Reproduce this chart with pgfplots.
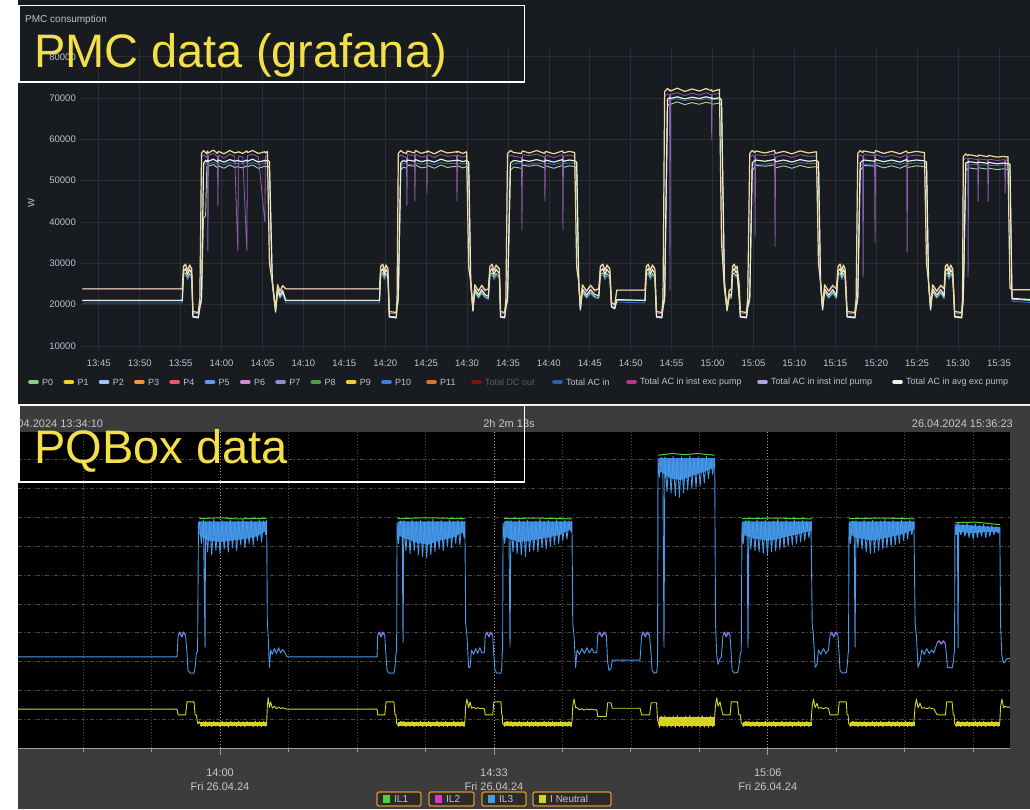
\documentclass[border=0pt]{standalone}
\usepackage{fontspec}
\setmainfont{Liberation Sans}
\usepackage{pgfplots}
\usepackage{pgfplotstable}
\pgfplotsset{compat=1.18}
\definecolor{gbg}{HTML}{181B1F}
\definecolor{ggrid}{HTML}{2B2E34}
\definecolor{gtext}{HTML}{BFC3CA}
\definecolor{gdim}{HTML}{5E5E62}
\definecolor{lblyellow}{HTML}{F2DF4A}
\definecolor{Ycol}{HTML}{F0DA98}
\definecolor{Wcol}{HTML}{E6F0E2}
\definecolor{Gcol}{HTML}{A6D89A}
\definecolor{Pcol}{HTML}{8E5FB0}
\definecolor{Bcol}{HTML}{3C6FC8}
\definecolor{lgP0}{HTML}{8FCE80}
\definecolor{lgP1}{HTML}{F2D12C}
\definecolor{lgP2}{HTML}{A0C4FF}
\definecolor{lgP3}{HTML}{F5953A}
\definecolor{lgP4}{HTML}{E8566A}
\definecolor{lgP5}{HTML}{5B9CF2}
\definecolor{lgP6}{HTML}{D28AD8}
\definecolor{lgP7}{HTML}{8F8CD0}
\definecolor{lgP8}{HTML}{4AA040}
\definecolor{lgP9}{HTML}{F0D030}
\definecolor{lgP10}{HTML}{3B7DD8}
\definecolor{lgP11}{HTML}{E0752A}
\definecolor{lgDC}{HTML}{7A1414}
\definecolor{lgTAC}{HTML}{2F5FA8}
\definecolor{lgExc}{HTML}{B3338F}
\definecolor{lgIncl}{HTML}{B5A0E0}
\definecolor{lgAvg}{HTML}{F0F5E0}
\definecolor{pqgray}{HTML}{3C3C3C}
\definecolor{pqgrid}{HTML}{4A4A4A}
\definecolor{pqtext}{HTML}{C8C8C8}
\definecolor{L1c}{HTML}{4CD137}
\definecolor{L2c}{HTML}{D63AC8}
\definecolor{L3c}{HTML}{4A9AE8}
\definecolor{L3band}{HTML}{3A88D8}
\definecolor{Nc}{HTML}{D6D420}
\definecolor{boxorange}{HTML}{E0902A}
\definecolor{boxfill}{HTML}{2B2B2B}
\newcommand{\tickfont}{\fontsize{9.5}{11}\selectfont}
\newcommand{\legfont}{\fontsize{9}{11}\selectfont}

\pgfplotstableread{
t Y P W G B
43.0 23800 23800 21000 21000 20400
55.20 23800 23800 21000 21000 20400
55.35 29300 29000 28000 27300 26800
55.60 29800 29400 28700 27700 27200
55.85 28300 28000 27300 26600 26000
56.10 29600 29200 28500 27500 27000
56.35 28700 28400 27500 26800 26300
56.50 18300 17900 17000 17200 16900
57.15 18100 17800 16800 17000 16800
57.35 21500 21000 19600 19200 18900
57.55 56600 55800 21500 21000 20800
57.80 57300 56200 54200 41000 53600
58.05 56800 55900 54900 41500 54100
58.20 56500 55600 54600 53300 54300
58.28 57200 56300 55000 53700 54000
58.33 56900 33000 54800 53200 54200
58.40 56700 56100 54700 53500 54000
59.00 57400 56600 55200 53900 54400
59.50 56600 55800 54600 53100 54000
59.55 56800 44000 54800 53300 54200
59.62 57100 56200 55000 53600 54300
60.30 56500 55500 54500 53000 53900
61.00 57300 56400 55100 53800 54400
61.60 56700 55900 54700 53200 54100
61.99 56900 33000 54900 53400 54200
62.06 57000 56000 54800 53300 54000
62.60 56600 55700 54600 53100 54200
63.09 57200 33000 55000 53600 54300
63.16 56800 56100 54700 53400 54000
63.80 57300 56400 55200 53800 54400
64.50 56600 55700 54500 53000 53900
65.29 57000 40000 54900 53500 54200
65.36 56700 55900 54700 53300 54100
65.60 57100 56200 55000 53600 54300
65.85 30000 33000 54600 53200 54000
66.20 25500 25000 26000 25000 24500
66.60 19000 18700 18200 18400 18000
66.85 24800 24500 23800 23200 22800
67.15 23300 23000 22300 21800 21500
67.45 24600 24300 23500 22900 22500
67.85 23800 23800 21000 21000 20400
79.30 23800 23800 21000 21000 20400
79.45 29300 29000 28000 27300 26800
79.70 29800 29400 28700 27700 27200
79.90 28300 28000 27300 26600 26000
80.10 29600 29200 28500 27500 27000
80.33 28700 28400 27500 26800 26300
80.50 18300 17900 17000 17200 16900
81.35 18100 17800 16800 17000 16800
81.45 21500 21000 19600 19200 18900
81.60 56600 55800 22000 21000 20800
81.90 57300 56200 54300 52500 53600
82.20 56800 55900 54900 53300 54100
82.60 56600 55600 54600 53000 54300
82.65 56900 44000 54800 53200 54200
82.72 57200 56300 55000 53700 54000
83.58 56700 56100 54700 53500 54000
83.63 56900 45000 54900 53400 54200
83.70 57300 56400 55100 53800 54300
84.40 56600 55700 54600 53100 54000
85.05 57000 56000 54900 53300 54100
85.10 56800 47000 54800 53200 54200
85.17 57200 56300 55000 53700 54300
86.00 56500 55600 54500 53000 53900
86.80 57300 56400 55200 53800 54400
87.60 56700 55900 54700 53200 54100
88.72 57000 56100 54900 53500 54200
88.77 56800 45000 54800 53300 54000
88.84 57100 56200 55000 53600 54300
89.50 56600 55700 54600 53100 54000
89.95 57000 56000 54900 53400 54200
90.20 29000 30000 54500 53000 53900
90.45 25500 25000 26000 25000 24500
90.72 19200 18900 18500 18600 18200
90.95 24800 24500 23800 23200 22800
91.40 23300 23000 22300 21800 21500
91.80 24700 24300 23600 23000 22600
92.20 23500 23200 22400 21900 21600
92.60 23800 23800 22000 21500 21200
92.80 29300 29000 28000 27300 26800
93.05 29800 29400 28700 27700 27200
93.30 28300 28000 27300 26600 26000
93.55 29600 29200 28500 27500 27000
93.95 28700 28400 27500 26800 26300
94.10 18300 17900 17000 17200 16900
94.60 18100 17800 16800 17000 16800
94.75 21500 21000 19600 19200 18900
94.95 56600 55800 22000 21000 20800
95.30 57300 56200 54300 52500 53600
95.70 56800 55900 54900 53300 54100
96.65 56600 55600 54600 53000 54300
96.71 56900 38000 54800 53200 54200
96.78 57200 56300 55000 53700 54000
97.60 56700 56100 54700 53500 54000
98.50 57300 56400 55100 53800 54300
99.47 56600 55700 54600 53100 54000
99.52 56800 45000 54800 53300 54200
99.59 57100 56200 55000 53600 54300
100.60 56500 55600 54500 53000 53900
101.67 57200 56300 55100 53700 54400
101.72 56900 38000 54800 53300 54100
101.79 56700 55900 54700 53200 54100
102.50 57100 56200 55000 53600 54300
103.15 56800 55900 54800 53400 54200
103.40 29000 30000 54500 53000 53900
103.65 25500 25000 25800 24800 24300
103.85 19500 19200 18800 18900 18500
104.10 24800 24500 23800 23200 22800
104.60 23300 23000 22300 21800 21500
105.10 24700 24300 23600 23000 22600
105.60 23500 23200 22400 21900 21600
106.10 23800 23800 22200 21700 21400
106.30 29300 29000 28000 27300 26800
106.60 29800 29400 28700 27700 27200
106.85 28300 28000 27300 26600 26000
107.10 29600 29200 28500 27500 27000
107.45 28700 28400 27500 26800 26300
107.65 20500 20200 19500 19600 19300
108.05 20000 19700 19000 19200 18900
108.30 23500 23500 21200 21100 20600
111.75 23500 23500 21000 21000 20400
111.90 29300 29000 28000 27300 26800
112.15 29800 29400 28700 27700 27200
112.40 28300 28000 27300 26600 26000
112.65 29600 29200 28500 27500 27000
112.95 28700 28400 27500 26800 26300
113.15 18300 17900 17000 17200 16900
113.80 18100 17800 16800 17000 16800
113.95 21500 21000 19600 19200 18900
114.15 71600 70500 22000 21000 20800
114.50 72300 71000 69700 68000 69300
114.75 71800 70800 70100 68700 69600
114.80 72000 23500 70000 68800 69500
114.87 71700 70900 69900 68500 69700
115.70 72400 71300 70300 69100 69800
116.60 71600 70600 69800 68400 69400
117.50 72200 71200 70200 68900 69700
118.40 71700 70700 69900 68500 69500
119.20 72300 71300 70300 69000 69800
119.85 71800 70800 70000 68700 69600
119.90 72000 60000 70100 68800 69500
119.97 71600 70900 69800 68500 69600
120.85 72100 71100 70100 68800 69700
121.10 35000 40000 69500 68200 69000
121.45 24000 24000 26000 25000 24500
121.77 19000 18700 18700 18500 18300
122.05 23500 23200 22500 22000 21600
122.30 23800 23800 22200 21700 21400
122.45 29300 29000 28000 27300 26800
122.65 29800 29400 28700 27700 27200
122.85 28800 28500 27800 27000 26500
123.00 29300 29000 28200 27300 26800
123.25 25000 24500 22000 22000 21500
123.40 18300 17900 17000 17200 16900
124.15 18100 17800 16800 17000 16800
124.30 21500 21000 19600 19200 18900
124.55 56600 55800 22000 21000 20800
124.85 57300 56200 54300 52500 53600
125.15 56800 55900 54900 53300 54100
125.20 56900 36400 54800 53200 54200
125.27 57200 56300 55000 53700 54000
126.40 56700 56100 54700 53500 54000
127.58 57300 56400 55100 53800 54300
127.64 56800 34000 54800 53300 54200
127.71 56600 55700 54600 53100 54000
128.70 57100 56200 55000 53600 54300
129.70 56500 55600 54500 53000 53900
130.70 57200 56300 55100 53700 54400
131.70 56700 55900 54700 53200 54100
132.70 57000 56000 54900 53400 54200
132.95 30000 31000 54500 53000 53900
133.20 25500 25000 25800 24800 24300
133.45 19500 19200 18800 18900 18500
133.70 24800 24500 23800 23200 22800
134.20 23300 23000 22300 21800 21500
134.70 24700 24300 23600 23000 22600
135.15 23800 23800 22200 21700 21400
135.35 29300 29000 28000 27300 26800
135.60 29800 29400 28700 27700 27200
135.80 28300 28000 27300 26600 26000
136.00 29600 29200 28500 27500 27000
136.20 28700 28400 27500 26800 26300
136.45 18300 17900 17000 17200 16900
137.40 18100 17800 16800 17000 16800
137.55 21500 21000 19600 19200 18900
137.75 56600 55800 22000 21000 20800
138.05 57300 56200 54300 52500 53600
138.35 56800 55900 54900 53300 54100
138.40 56900 26700 54800 53200 54200
138.47 57200 56300 55000 53700 54000
139.80 56700 56100 54700 53500 54000
139.86 56900 35000 54900 53400 54200
139.93 57300 56400 55100 53800 54300
140.90 56600 55700 54600 53100 54000
141.90 57100 56200 55000 53600 54300
142.90 56500 55600 54500 53000 53900
143.72 57200 56300 55100 53700 54400
143.78 56900 32700 54800 53300 54100
143.85 56700 55900 54700 53200 54100
144.90 57100 56200 55000 53600 54300
145.90 56800 55900 54800 53400 54200
146.15 30000 31000 54500 53000 53900
146.40 25500 25000 25800 24800 24300
146.65 19500 19200 18800 18900 18500
146.90 24800 24500 23800 23200 22800
147.40 23300 23000 22300 21800 21500
147.90 24700 24300 23600 23000 22600
148.30 23800 23800 22200 21700 21400
148.45 29300 29000 28000 27300 26800
148.70 29800 29400 28700 27700 27200
148.90 28300 28000 27300 26600 26000
149.10 29600 29200 28500 27500 27000
149.35 28700 28400 27500 26800 26300
149.60 18300 17900 17000 17200 16900
150.45 18100 17800 16800 17000 16800
150.55 21500 21000 19600 19200 18900
150.65 55800 55000 22000 21000 20800
150.95 56500 55500 54300 52500 53600
151.20 56000 55200 54500 53000 53900
151.23 56100 26700 54400 52900 54000
151.30 56300 55400 54600 53100 53800
152.40 55900 55100 54300 52800 53900
152.46 56000 45000 54400 53000 54000
152.53 56200 55300 54500 53100 53800
153.62 55800 55000 54200 52800 53800
153.68 56000 45000 54300 52900 53900
153.75 56100 55200 54400 53000 53700
154.80 55700 54900 54100 52700 53700
155.70 55900 55100 54300 52900 53800
155.76 55800 47000 54200 52800 53900
155.83 55700 55000 54100 52700 53700
156.10 55800 55000 54200 52800 53800
156.35 24000 23800 54000 52500 53500
156.60 23600 23600 21500 21300 20800
158.80 23600 23600 21200 21000 20500
}\toptab

\pgfplotstableread{
t L3 N
35.66 3.16 1.35
54.82 3.16 1.35
54.95 3.90 1.15
55.15 4.00 1.15
55.40 3.85 1.15
55.60 4.00 1.15
55.85 3.90 1.15
56.02 3.30 1.60
56.14 2.70 1.60
56.40 2.60 1.60
56.87 2.60 1.60
57.00 2.80 1.15
57.15 3.30 1.15
57.30 3.35 0.85
57.40 7.80 0.85
57.50 7.86 0.92
57.75 7.10 0.75
58.00 7.92 0.90
58.20 3.50 0.74
58.25 7.84 0.93
58.50 6.80 0.75
58.75 7.88 0.91
59.00 6.70 0.74
59.25 7.95 0.92
59.50 6.85 0.76
59.75 7.84 0.90
60.00 6.75 0.74
60.25 7.90 0.93
60.50 6.90 0.75
60.75 7.86 0.91
61.00 6.80 0.73
61.25 7.92 0.92
61.50 6.95 0.76
61.75 7.84 0.90
62.00 6.85 0.74
62.25 7.88 0.93
62.50 7.05 0.75
62.75 7.95 0.91
63.00 6.95 0.74
63.25 7.86 0.92
63.50 7.10 0.76
63.75 7.90 0.90
64.00 7.05 0.74
64.25 7.84 0.93
64.50 7.20 0.75
64.75 7.92 0.91
65.00 7.15 0.74
65.25 7.88 0.92
65.50 7.40 0.76
65.62 7.90 0.90
65.70 4.30 1.45
65.80 3.90 1.75
65.95 2.80 1.40
66.10 3.40 1.60
66.30 3.25 1.38
66.55 3.45 1.45
66.80 3.28 1.36
67.05 3.48 1.42
67.30 3.30 1.37
67.55 3.42 1.40
67.83 3.30 1.36
68.07 3.16 1.35
78.92 3.16 1.35
79.00 3.90 1.15
79.20 4.00 1.15
79.40 3.85 1.15
79.60 4.00 1.15
79.85 3.90 1.15
80.00 3.20 1.60
80.12 2.70 1.60
80.35 2.60 1.60
80.95 2.60 1.60
81.08 2.80 1.15
81.20 3.30 1.15
81.28 3.35 0.85
81.33 7.80 0.85
81.50 7.10 0.75
81.75 7.88 0.92
81.95 7.85 0.90
82.05 3.65 0.76
82.15 7.90 0.93
82.40 6.85 0.74
82.65 7.84 0.91
82.90 6.75 0.75
83.15 7.92 0.92
83.40 6.85 0.74
83.65 7.86 0.90
83.90 6.70 0.76
84.15 7.90 0.93
84.40 6.65 0.74
84.65 7.84 0.91
84.90 6.60 0.75
85.15 7.88 0.92
85.40 6.70 0.74
85.65 7.95 0.90
85.90 6.80 0.76
86.15 7.86 0.93
86.40 6.90 0.74
86.65 7.90 0.91
86.90 6.85 0.75
87.15 7.84 0.92
87.40 7.00 0.74
87.65 7.92 0.90
87.90 6.95 0.76
88.15 7.86 0.93
88.40 7.10 0.74
88.65 7.90 0.91
88.90 7.05 0.75
89.15 7.88 0.92
89.40 7.30 0.74
89.50 7.86 0.90
89.60 4.30 1.45
89.75 3.90 1.70
89.95 2.80 1.40
90.12 2.80 1.60
90.30 3.40 1.38
90.55 3.25 1.42
90.80 3.45 1.36
91.05 3.28 1.40
91.30 3.48 1.37
91.55 3.30 1.38
91.85 3.32 1.36
91.95 3.90 1.15
92.15 4.00 1.15
92.40 3.85 1.15
92.60 4.00 1.15
92.85 3.90 1.15
93.00 3.20 1.60
93.13 2.70 1.60
93.35 2.60 1.60
93.85 2.60 1.60
93.95 2.80 1.15
94.00 3.30 1.15
94.05 3.35 0.85
94.10 7.80 0.85
94.30 7.10 0.75
94.55 7.88 0.92
94.80 7.85 0.90
94.94 3.50 0.76
95.05 7.90 0.93
95.30 6.80 0.74
95.55 7.84 0.91
95.80 6.75 0.75
96.05 7.92 0.92
96.30 6.70 0.74
96.55 7.86 0.90
96.80 6.65 0.76
97.05 7.90 0.93
97.30 6.80 0.74
97.55 7.84 0.91
97.80 6.85 0.75
98.05 7.88 0.92
98.30 6.80 0.74
98.55 7.95 0.90
98.80 6.95 0.76
99.05 7.86 0.93
99.30 6.90 0.74
99.55 7.90 0.91
99.80 7.00 0.75
100.05 7.84 0.92
100.30 7.05 0.74
100.55 7.92 0.90
100.80 7.10 0.76
101.05 7.86 0.93
101.30 7.20 0.74
101.55 7.90 0.91
101.80 7.25 0.75
102.05 7.88 0.92
102.30 7.50 0.74
102.40 7.86 0.90
102.50 4.30 1.45
102.65 3.90 1.70
102.85 2.80 1.40
103.01 3.40 1.40
103.30 3.25 1.33
103.60 3.45 1.36
103.90 3.28 1.32
104.20 3.48 1.35
104.50 3.30 1.33
104.80 3.45 1.35
105.10 3.30 1.32
105.40 3.32 1.33
105.50 3.90 1.10
105.75 4.00 1.10
106.00 3.85 1.10
106.25 4.00 1.10
106.55 3.90 1.10
106.70 3.00 1.57
106.85 2.70 1.57
107.10 2.75 1.57
107.25 3.05 1.38
110.60 3.05 1.38
110.80 3.90 1.15
111.00 4.00 1.15
111.25 3.85 1.15
111.45 4.00 1.15
111.75 3.90 1.15
111.95 3.20 1.57
112.05 2.70 1.57
112.30 2.60 1.57
112.60 2.62 1.57
112.68 2.80 1.15
112.72 3.30 0.95
112.77 10.00 0.95
112.95 9.40 0.72
113.15 10.08 1.10
113.35 10.02 1.05
113.49 3.50 0.74
113.60 10.10 1.12
113.85 8.90 0.72
114.10 10.04 1.08
114.35 8.85 0.73
114.60 10.12 1.10
114.85 8.75 0.72
115.10 10.06 1.12
115.35 8.70 0.74
115.60 10.10 1.08
115.85 8.85 0.72
116.10 10.02 1.10
116.35 8.95 0.73
116.60 10.14 1.12
116.85 9.00 0.72
117.10 10.06 1.08
117.35 9.05 0.74
117.60 10.10 1.10
117.85 9.10 0.72
118.10 10.04 1.12
118.35 9.20 0.73
118.60 10.12 1.08
118.85 9.35 0.72
119.10 10.06 1.10
119.35 9.50 0.74
119.60 10.05 1.08
119.70 4.30 1.50
119.85 3.20 1.74
120.00 2.90 1.45
120.24 3.10 1.60
120.40 3.16 1.36
120.60 3.90 1.15
120.80 4.00 1.15
121.00 3.85 1.15
121.20 4.00 1.15
121.45 3.90 1.15
121.60 3.20 1.60
121.69 2.70 1.60
121.95 2.60 1.60
122.35 2.62 1.60
122.50 2.80 1.15
122.70 3.30 1.15
122.80 3.35 0.85
122.89 7.80 0.85
123.05 7.10 0.75
123.30 7.88 0.92
123.50 7.85 0.90
123.61 3.47 0.76
123.72 7.90 0.93
123.95 6.90 0.74
124.20 7.84 0.91
124.45 6.85 0.75
124.70 7.92 0.92
124.95 6.80 0.74
125.20 7.86 0.90
125.45 6.75 0.76
125.70 7.90 0.93
125.95 6.70 0.74
126.20 7.84 0.91
126.45 6.80 0.75
126.70 7.88 0.92
126.95 6.85 0.74
127.20 7.95 0.90
127.45 6.90 0.76
127.70 7.86 0.93
127.95 6.95 0.74
128.20 7.90 0.91
128.45 7.00 0.75
128.70 7.84 0.92
128.95 7.05 0.74
129.20 7.92 0.90
129.45 7.10 0.76
129.70 7.86 0.93
129.95 7.15 0.74
130.20 7.90 0.91
130.45 7.20 0.75
130.70 7.88 0.92
130.95 7.30 0.74
131.20 7.86 0.90
131.35 4.30 1.45
131.50 3.90 1.70
131.70 2.80 1.40
131.93 2.90 1.55
132.10 3.40 1.38
132.40 3.25 1.40
132.70 3.45 1.36
133.00 3.28 1.40
133.30 3.40 1.37
133.50 3.90 1.15
133.70 4.00 1.15
133.95 3.85 1.15
134.20 4.00 1.15
134.45 3.90 1.15
134.60 3.20 1.60
134.70 2.70 1.60
134.95 2.60 1.60
135.45 2.62 1.60
135.55 2.80 1.15
135.68 3.30 1.15
135.73 3.35 0.85
135.78 7.80 0.85
135.95 7.10 0.75
136.20 7.88 0.92
136.40 7.85 0.90
136.51 3.50 0.76
136.62 7.90 0.93
136.85 6.95 0.74
137.10 7.84 0.91
137.35 6.90 0.75
137.60 7.92 0.92
137.85 6.80 0.74
138.10 7.86 0.90
138.35 6.75 0.76
138.60 7.90 0.93
138.85 6.78 0.74
139.10 7.84 0.91
139.35 6.85 0.75
139.60 7.88 0.92
139.85 6.90 0.74
140.10 7.95 0.90
140.35 6.95 0.76
140.60 7.86 0.93
140.85 7.00 0.74
141.10 7.90 0.91
141.35 7.05 0.75
141.60 7.84 0.92
141.85 7.10 0.74
142.10 7.92 0.90
142.35 7.20 0.76
142.60 7.86 0.93
142.85 7.25 0.74
143.10 7.90 0.91
143.35 7.40 0.75
143.60 7.86 0.92
143.75 4.30 1.45
143.90 3.90 1.70
144.10 2.80 1.40
144.34 3.00 1.55
144.55 3.40 1.38
144.85 3.25 1.40
145.15 3.45 1.36
145.45 3.28 1.40
145.75 3.40 1.37
146.00 3.30 1.36
146.40 3.65 1.15
146.65 3.70 1.15
146.90 3.60 1.15
147.15 3.70 1.15
147.40 3.60 1.15
147.55 3.10 1.60
147.65 2.80 1.60
148.20 2.78 1.60
148.35 3.00 1.15
148.45 3.30 1.15
148.50 3.35 0.85
148.55 7.75 0.85
148.70 7.40 0.75
148.85 7.78 0.92
148.92 3.47 0.76
149.00 7.80 0.93
149.25 7.40 0.74
149.50 7.76 0.91
149.75 7.35 0.75
150.00 7.80 0.92
150.25 7.30 0.74
150.50 7.74 0.90
150.75 7.25 0.76
151.00 7.78 0.93
151.25 7.30 0.74
151.50 7.72 0.91
151.75 7.35 0.75
152.00 7.76 0.92
152.25 7.30 0.74
152.50 7.70 0.90
152.75 7.35 0.76
153.00 7.72 0.93
153.25 7.40 0.74
153.50 7.68 0.91
153.75 7.45 0.75
153.95 7.66 0.92
154.05 4.20 1.45
154.20 3.20 1.70
154.40 2.95 1.40
154.58 3.00 1.45
154.80 3.10 1.42
155.18 3.10 1.42
}\bottab

\begin{document}
\begin{tikzpicture}[x=1pt,y=1pt]
\path[use as bounding box] (0pt,0pt) rectangle (1030pt,-809pt);
\fill[white] (0pt,0pt) rectangle (1030pt,-809pt);
\fill[gbg] (18pt,0pt) rectangle (1030pt,-404pt);
\fill[pqgray] (18pt,-405pt) rectangle (1030pt,-809pt);
\fill[black] (18pt,-432pt) rectangle (1010pt,-749pt);

% ---------- top panel: grafana ----------
\begin{axis}[
  at={(80pt,-350pt)}, anchor=south west, scale only axis,
  width=950pt, height=301.5pt,
  xmin=42.7, xmax=158.8, ymin=9000, ymax=82000,
  scaled y ticks=false, scaled x ticks=false,
  axis line style={draw=none}, tick style={draw=none},
  grid=major, grid style={color=ggrid, line width=0.7pt},
  xtick={45,50,...,155},
  xticklabels={13:45,13:50,13:55,14:00,14:05,14:10,14:15,14:20,14:25,14:30,14:35,14:40,14:45,14:50,14:55,15:00,15:05,15:10,15:15,15:20,15:25,15:30,15:35},
  ytick={10000,20000,...,80000},
  yticklabels={10000,20000,30000,40000,50000,60000,70000,80000},
  xticklabel style={font=\tickfont, text=gtext, inner sep=0pt, anchor=north, yshift=-10pt},
  yticklabel style={font=\tickfont, text=gtext, inner sep=0pt, anchor=east, xshift=-4pt},
  line join=round,
]
\addplot[Bcol, line width=0.8pt] table[x=t,y=B]{\toptab};
\addplot[Gcol, line width=0.9pt] table[x=t,y=G]{\toptab};
\addplot[Pcol, line width=0.8pt] table[x=t,y=P]{\toptab};
\addplot[Wcol, line width=1.2pt] table[x=t,y=W]{\toptab};
\addplot[Ycol, line width=1.2pt] table[x=t,y=Y]{\toptab};
\end{axis}

\node[anchor=west, inner sep=0, text=gtext, font=\fontsize{10}{12}\selectfont] at (25pt,-20pt) {PMC consumption};
\node[rotate=90, inner sep=0, text=gtext, font=\tickfont] at (31pt,-203pt) {W};

% legend of top panel
\foreach \mx/\mc/\mt in {28/lgP0/P0, 63.3/lgP1/P1, 98.6/lgP2/P2, 133.9/lgP3/P3, 169.2/lgP4/P4, 204.5/lgP5/P5, 239.8/lgP6/P6, 275.1/lgP7/P7, 310.4/lgP8/P8, 345.7/lgP9/P9, 381/lgP10/P10, 426/lgP11/P11, 552/lgTAC/Total AC in, 626/lgExc/Total AC in inst exc pump, 757/lgIncl/Total AC in inst incl pump, 892/lgAvg/Total AC in avg exc pump}{
  \draw[\mc, line width=3.6pt, line cap=round] (\mx pt+2pt,-382pt) -- (\mx pt+9pt,-382pt);
  \node[anchor=west, inner sep=0, text=gtext, font=\legfont] at (\mx pt+14pt,-382pt) {\mt};
}
\draw[lgDC, line width=3.6pt, line cap=round] (473pt,-382pt) -- (480pt,-382pt);
\node[anchor=west, inner sep=0, text=gdim, font=\legfont] at (485pt,-382pt) {Total DC out};

% label box top
\draw[white, line width=1.8pt] (18.9pt,-5.5pt) rectangle (524.5pt,-82pt);
\node[anchor=base west, inner sep=0, text=lblyellow, font=\fontsize{47}{48}\selectfont] at (34pt,-67pt) {PMC data (grafana)};

% ---------- bottom panel: PQBox ----------
\draw[white!80!gray, line width=1pt] (18pt,-405.5pt) -- (1030pt,-405.5pt);
\begin{scope}
\clip (18pt,-405pt) rectangle (1030pt,-432pt);
\node[anchor=west, inner sep=0, text=pqtext, font=\fontsize{11}{13}\selectfont] at (2pt,-424pt) {26.04.2024 13:34:10};
\end{scope}
\node[inner sep=0, text=pqtext, font=\fontsize{11}{13}\selectfont] at (509pt,-424pt) {2h 2m 13s};
\node[anchor=east, inner sep=0, text=pqtext, font=\fontsize{11}{13}\selectfont] at (1013pt,-424pt) {26.04.2024 15:36:23};

\begin{axis}[
  at={(18pt,-748pt)}, anchor=south west, scale only axis,
  width=992pt, height=317pt,
  xmin=35.66, xmax=155.18, ymin=0, ymax=11,
  axis line style={draw=none},
  xtick={60,93,126},
  xticklabels={{14:00\\Fri 26.04.24},{14:33\\Fri 26.04.24},{15:06\\Fri 26.04.24}},
  minor xtick={43.5,51.75,68.25,76.5,84.75,101.25,109.5,117.75,134.25,142.5,150.75},
  xtick pos=left, tick align=outside,
  major tick length=7pt, minor tick length=4pt,
  xtick style={color=gray!75, line width=0.8pt},
  ytick={1,2,...,10}, yticklabels={}, ytick style={draw=none},
  xmajorgrids, xminorgrids, ymajorgrids,
  major x grid style={color=gray!70, dash pattern=on 1pt off 2pt, line width=0.8pt},
  minor x grid style={color=pqgrid, dash pattern=on 1pt off 2pt, line width=0.7pt},
  major y grid style={color=pqgrid, dash pattern=on 4pt off 2pt on 1pt off 2pt, line width=0.7pt},
  xticklabel style={font=\fontsize{11}{13.5}\selectfont, text=pqtext, align=center, inner sep=0pt, anchor=north, yshift=-14pt},
  line join=round,
]
% solid part of the IL3 bands during the plateaus
\addplot[L3band, draw=none, fill=L3band] coordinates {(57.5,7.86)(65.6,7.86)(65.6,7.55)(64.5,7.35)(63,7.25)(61.5,7.2)(60,7.15)(58.5,7.2)(57.5,7.4)} -- cycle;
\addplot[L3band, draw=none, fill=L3band] coordinates {(81.4,7.86)(89.5,7.86)(89.5,7.5)(88,7.3)(86.5,7.2)(85,7.05)(83.5,7.15)(82,7.3)(81.4,7.4)} -- cycle;
\addplot[L3band, draw=none, fill=L3band] coordinates {(94.2,7.86)(102.4,7.86)(102.4,7.6)(101,7.4)(99.5,7.3)(97.5,7.2)(96,7.15)(94.5,7.3)(94.2,7.4)} -- cycle;
\addplot[L3band, draw=none, fill=L3band] coordinates {(112.8,10.06)(119.6,10.06)(119.6,9.75)(118.5,9.6)(117,9.45)(115.5,9.3)(114.3,9.35)(113,9.6)} -- cycle;
\addplot[L3band, draw=none, fill=L3band] coordinates {(122.9,7.86)(131.3,7.86)(131.3,7.55)(130,7.45)(128.5,7.35)(126.5,7.2)(124.5,7.25)(123,7.4)} -- cycle;
\addplot[L3band, draw=none, fill=L3band] coordinates {(135.8,7.86)(143.7,7.86)(143.7,7.6)(142.5,7.45)(140.5,7.3)(138.5,7.2)(136.5,7.3)(135.8,7.45)} -- cycle;
\addplot[L3band, draw=none, fill=L3band] coordinates {(148.6,7.76)(154,7.66)(154,7.5)(152.5,7.5)(150.5,7.45)(149,7.5)(148.6,7.55)} -- cycle;
% IL1 (green) visible along the plateau tops
\addplot[L1c, line width=1pt] coordinates {(57.5,7.96)(60,7.99)(62,7.95)(65.6,7.97)};
\addplot[L1c, line width=1pt] coordinates {(81.4,7.96)(85,7.99)(89.5,7.96)};
\addplot[L1c, line width=1pt] coordinates {(94.2,7.96)(98,7.98)(102.4,7.95)};
\addplot[L1c, line width=1pt] coordinates {(112.8,10.16)(114.5,10.22)(116,10.18)(117.5,10.22)(119.6,10.16)};
\addplot[L1c, line width=1pt] coordinates {(122.9,7.96)(127,7.98)(131.3,7.95)};
\addplot[L1c, line width=1pt] coordinates {(135.8,7.96)(140,7.98)(143.7,7.95)};
\addplot[L1c, line width=1pt] coordinates {(148.6,7.82)(151,7.84)(153.95,7.75)};
% IL2 (magenta) peeking at the bump tops
\addplot[L2c, line width=0.9pt] coordinates {(54.97,3.93)(55.15,4.03)(55.40,3.88)(55.60,4.03)(55.85,3.93)};
\addplot[L2c, line width=0.9pt] coordinates {(79.02,3.93)(79.20,4.03)(79.40,3.88)(79.60,4.03)(79.85,3.93)};
\addplot[L2c, line width=0.9pt] coordinates {(91.97,3.93)(92.15,4.03)(92.40,3.88)(92.60,4.03)(92.85,3.93)};
\addplot[L2c, line width=0.9pt] coordinates {(105.52,3.93)(105.75,4.03)(106.00,3.88)(106.25,4.03)(106.55,3.93)};
\addplot[L2c, line width=0.9pt] coordinates {(110.82,3.93)(111.00,4.03)(111.25,3.88)(111.45,4.03)(111.75,3.93)};
\addplot[L2c, line width=0.9pt] coordinates {(120.62,3.93)(120.80,4.03)(121.00,3.88)(121.20,4.03)(121.45,3.93)};
\addplot[L2c, line width=0.9pt] coordinates {(133.52,3.93)(133.70,4.03)(133.95,3.88)(134.20,4.03)(134.45,3.93)};
\addplot[L2c, line width=0.9pt] coordinates {(146.42,3.68)(146.65,3.73)(146.90,3.63)(147.15,3.73)(147.40,3.63)};
% IL3 and neutral
\addplot[L3c, line width=0.9pt] table[x=t,y=L3]{\bottab};
\addplot[Nc, line width=0.9pt] table[x=t,y=N]{\bottab};
% thick neutral bands during the plateaus
\addplot[Nc, line width=4.5pt] coordinates {(57.6,0.83)(65.6,0.83)};
\addplot[Nc, line width=4.5pt] coordinates {(81.4,0.83)(89.5,0.83)};
\addplot[Nc, line width=4.5pt] coordinates {(94.2,0.83)(102.4,0.83)};
\addplot[Nc, line width=9pt] coordinates {(112.9,0.92)(119.6,0.92)};
\addplot[Nc, line width=4.5pt] coordinates {(123.0,0.83)(131.3,0.83)};
\addplot[Nc, line width=4.5pt] coordinates {(135.9,0.83)(143.7,0.83)};
\addplot[Nc, line width=4.5pt] coordinates {(148.7,0.83)(154.0,0.83)};
\end{axis}
\draw[gray!75, line width=0.8pt] (18pt,-748.5pt) -- (1010pt,-748.5pt);

% legend boxes bottom
\foreach \bx/\bw/\bc/\bt in {377/44/L1c/IL1, 429/45/L2c/IL2, 482/44/L3c/IL3, 533/78/Nc/I Neutral}{
  \draw[boxorange, line width=1.3pt, rounded corners=2pt, fill=boxfill] (\bx pt,-792pt) rectangle (\bx pt+\bw pt,-806pt);
  \fill[\bc] (\bx pt+6pt,-795pt) rectangle (\bx pt+13pt,-803pt);
  \node[anchor=west, inner sep=0, text=pqtext, font=\fontsize{10}{12}\selectfont] at (\bx pt+17pt,-799pt) {\bt};
}

% label box bottom
\draw[white, line width=1.8pt] (18.9pt,-405.5pt) rectangle (524.5pt,-482pt);
\node[anchor=base west, inner sep=0, text=lblyellow, font=\fontsize{47}{48}\selectfont] at (34pt,-463pt) {PQBox data};
\end{tikzpicture}
\end{document}
